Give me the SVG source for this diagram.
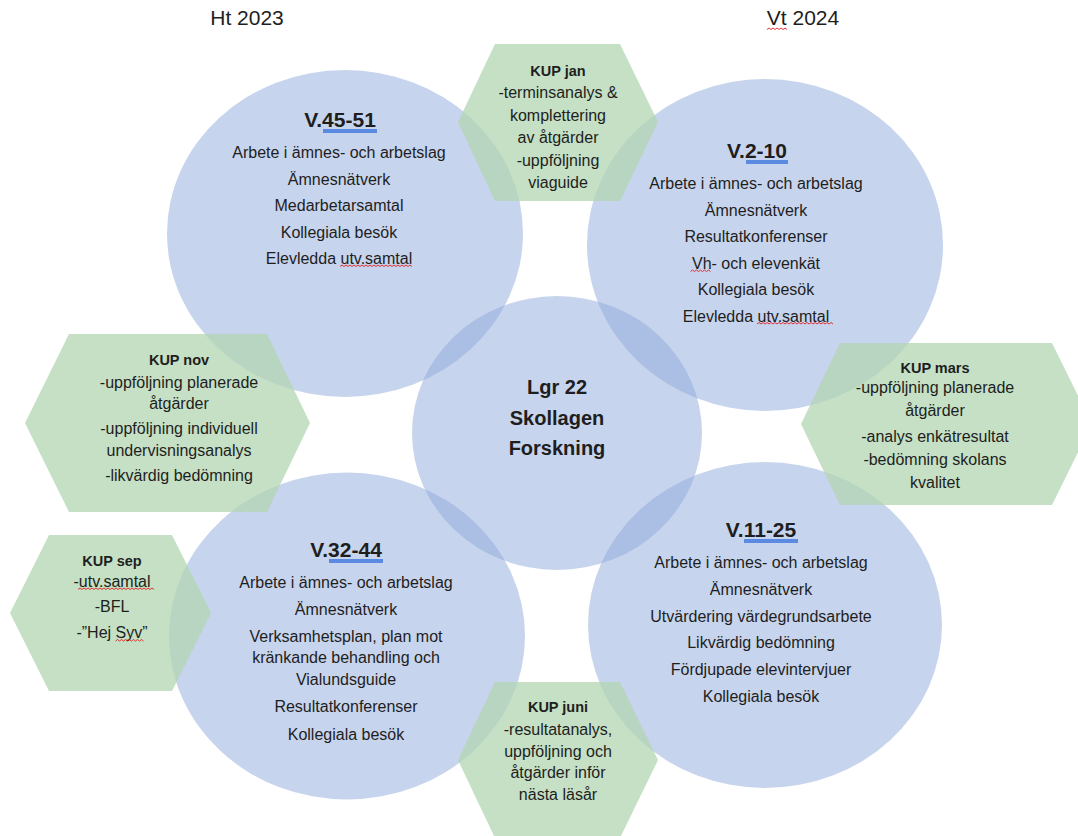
<svg xmlns="http://www.w3.org/2000/svg" width="1078" height="836" viewBox="0 0 1078 836">
<style>
.circ{fill:#8FAADC;fill-opacity:0.5}
.hex{fill:#B2D6B0;fill-opacity:0.75}
text{font-family:"Liberation Sans",Arial,sans-serif;fill:#1E1E1E;text-anchor:middle}
.t{font-size:16px}
.k{font-size:14.5px;font-weight:bold}
.v{font-size:21px;font-weight:bold}
.m{font-size:20px;font-weight:bold}
.y{font-size:21px}
.ul{fill:#5B8BE0}
.sq{fill:none;stroke:#E02020;stroke-width:0.9}
</style>
<rect width="1078" height="836" fill="#FFFFFF"/>
<g id="label-ht">
<text class="y" x="247" y="25">Ht 2023</text>
</g>
<g id="label-vt">
<text class="y" x="803" y="25">Vt 2024</text>
<path class="sq" d="M767 29.5l2-1.5 2 1.5 2-1.5 2 1.5 2-1.5 2 1.5 2-1.5 2 1.5 2-1.5 2 1.5"/>
</g>
<g id="circle-v45-51">
<ellipse class="circ" cx="345" cy="233.5" rx="178" ry="163.5"/>
<text class="v" x="340" y="127">V.45-51</text>
<rect class="ul" x="323" y="129" width="54" height="4"/>
<text class="t" x="339" y="158">Arbete i ämnes- och arbetslag</text>
<text class="t" x="339" y="184.5">Ämnesnätverk</text>
<text class="t" x="339" y="211">Medarbetarsamtal</text>
<text class="t" x="339" y="237.5">Kollegiala besök</text>
<text class="t" x="339" y="264">Elevledda utv.samtal</text>
<path class="sq" d="M340 266.5l2-1.5 2 1.5 2-1.5 2 1.5 2-1.5 2 1.5 2-1.5 2 1.5 2-1.5 2 1.5 2-1.5 2 1.5 2-1.5 2 1.5 2-1.5 2 1.5 2-1.5 2 1.5 2-1.5 2 1.5 2-1.5 2 1.5 2-1.5 2 1.5 2-1.5 2 1.5 2-1.5 2 1.5 2-1.5 2 1.5 2-1.5 2 1.5 2-1.5 2 1.5 2-1.5 2 1.5"/>
</g>
<g id="circle-v2-10">
<ellipse class="circ" cx="765" cy="245" rx="178" ry="166"/>
<text class="v" x="757" y="158">V.2-10</text>
<rect class="ul" x="746" y="160" width="42" height="4"/>
<text class="t" x="756" y="189">Arbete i ämnes- och arbetslag</text>
<text class="t" x="756" y="215.5">Ämnesnätverk</text>
<text class="t" x="756" y="242">Resultatkonferenser</text>
<text class="t" x="756" y="268.5">Vh- och elevenkät</text>
<path class="sq" d="M690.5 271.5l2-1.5 2 1.5 2-1.5 2 1.5 2-1.5 2 1.5 2-1.5 2 1.5 2-1.5 2 1.5"/>
<text class="t" x="756" y="295">Kollegiala besök</text>
<text class="t" x="756" y="321.5">Elevledda utv.samtal</text>
<path class="sq" d="M757 324l2-1.5 2 1.5 2-1.5 2 1.5 2-1.5 2 1.5 2-1.5 2 1.5 2-1.5 2 1.5 2-1.5 2 1.5 2-1.5 2 1.5 2-1.5 2 1.5 2-1.5 2 1.5 2-1.5 2 1.5 2-1.5 2 1.5 2-1.5 2 1.5 2-1.5 2 1.5 2-1.5 2 1.5 2-1.5 2 1.5 2-1.5 2 1.5 2-1.5 2 1.5 2-1.5 2 1.5 2-1.5 2 1.5"/>
</g>
<g id="circle-v32-44">
<ellipse class="circ" cx="347" cy="636" rx="178" ry="163.5"/>
<text class="v" x="346" y="557">V.32-44</text>
<rect class="ul" x="329" y="559" width="54" height="4"/>
<text class="t" x="346" y="588">Arbete i ämnes- och arbetslag</text>
<text class="t" x="346" y="615">Ämnesnätverk</text>
<text class="t" x="346" y="642">Verksamhetsplan, plan mot</text>
<text class="t" x="346" y="663">kränkande behandling och</text>
<text class="t" x="346" y="685">Vialundsguide</text>
<text class="t" x="346" y="712">Resultatkonferenser</text>
<text class="t" x="346" y="740">Kollegiala besök</text>
</g>
<g id="circle-v11-25">
<ellipse class="circ" cx="765" cy="625" rx="177" ry="163"/>
<text class="v" x="761" y="537">V.11-25</text>
<rect class="ul" x="744" y="539" width="54" height="4"/>
<text class="t" x="761" y="568">Arbete i ämnes- och arbetslag</text>
<text class="t" x="761" y="595">Ämnesnätverk</text>
<text class="t" x="761" y="622">Utvärdering värdegrundsarbete</text>
<text class="t" x="761" y="648">Likvärdig bedömning</text>
<text class="t" x="761" y="675">Fördjupade elevintervjuer</text>
<text class="t" x="761" y="702">Kollegiala besök</text>
</g>
<g id="circle-center">
<ellipse class="circ" cx="557" cy="433" rx="145" ry="137"/>
<text class="m" x="557" y="394">Lgr 22</text>
<text class="m" x="557" y="425">Skollagen</text>
<text class="m" x="557" y="455">Forskning</text>
</g>
<g id="hex-kup-jan">
<polygon class="hex" points="495,44 620,44 658,122 620,201 495,201 458,122"/>
<text class="k" x="558" y="76">KUP jan</text>
<text class="t" x="558" y="98">-terminsanalys &amp;</text>
<text class="t" x="558" y="120.5">komplettering</text>
<text class="t" x="558" y="143">av åtgärder</text>
<text class="t" x="558" y="165.5">-uppföljning</text>
<text class="t" x="558" y="188">viaguide</text>
</g>
<g id="hex-kup-nov">
<polygon class="hex" points="69,334 267,334 310,423 267,512 69,512 25,423"/>
<text class="k" x="179" y="365">KUP nov</text>
<text class="t" x="179" y="388">-uppföljning planerade</text>
<text class="t" x="179" y="409">åtgärder</text>
<text class="t" x="179" y="434">-uppföljning individuell</text>
<text class="t" x="179" y="456">undervisningsanalys</text>
<text class="t" x="179" y="481">-likvärdig bedömning</text>
</g>
<g id="hex-kup-sep">
<polygon class="hex" points="49,535 172,535 211,613 172,691 49,691 10,613"/>
<text class="k" x="112" y="566">KUP sep</text>
<text class="t" x="112" y="587">-utv.samtal</text>
<path class="sq" d="M78 589.5l2-1.5 2 1.5 2-1.5 2 1.5 2-1.5 2 1.5 2-1.5 2 1.5 2-1.5 2 1.5 2-1.5 2 1.5 2-1.5 2 1.5 2-1.5 2 1.5 2-1.5 2 1.5 2-1.5 2 1.5 2-1.5 2 1.5 2-1.5 2 1.5 2-1.5 2 1.5 2-1.5 2 1.5 2-1.5 2 1.5 2-1.5 2 1.5 2-1.5 2 1.5 2-1.5 2 1.5 2-1.5 2 1.5"/>
<text class="t" x="112" y="612">-BFL</text>
<text class="t" x="112" y="638">-”Hej Syv”</text>
<path class="sq" d="M115.5 641l2-1.5 2 1.5 2-1.5 2 1.5 2-1.5 2 1.5 2-1.5 2 1.5 2-1.5 2 1.5 2-1.5 2 1.5 2-1.5 2 1.5"/>
</g>
<g id="hex-kup-mars">
<polygon class="hex" points="840,343 1052,343 1092,424 1052,505 840,505 801,424"/>
<text class="k" x="935" y="373">KUP mars</text>
<text class="t" x="935" y="393">-uppföljning planerade</text>
<text class="t" x="935" y="416">åtgärder</text>
<text class="t" x="935" y="442">-analys enkätresultat</text>
<text class="t" x="935" y="465">-bedömning skolans</text>
<text class="t" x="935" y="488">kvalitet</text>
</g>
<g id="hex-kup-juni">
<polygon class="hex" points="495,682 620,682 658,760 620,838 495,838 458,760"/>
<text class="k" x="558" y="712">KUP juni</text>
<text class="t" x="558" y="735">-resultatanalys,</text>
<text class="t" x="558" y="757">uppföljning och</text>
<text class="t" x="558" y="778">åtgärder inför</text>
<text class="t" x="558" y="800">nästa läsår</text>
</g>
<g id="connectors"/>
</svg>
